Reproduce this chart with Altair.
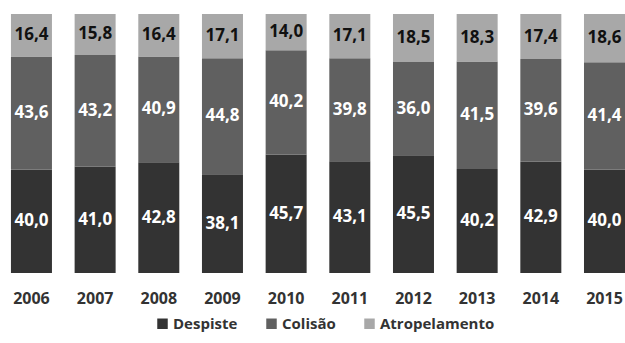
import altair as alt
import pandas as pd

years = ["2006", "2007", "2008", "2009", "2010", "2011", "2012", "2013", "2014", "2015"]
despiste = [40.0, 41.0, 42.8, 38.1, 45.7, 43.1, 45.5, 40.2, 42.9, 40.0]
colisao = [43.6, 43.2, 40.9, 44.8, 40.2, 39.8, 36.0, 41.5, 39.6, 41.4]
atropelamento = [16.4, 15.8, 16.4, 17.1, 14.0, 17.1, 18.5, 18.3, 17.4, 18.6]
categories = ["Despiste", "Colisão", "Atropelamento"]
colors = ["#333333", "#606060", "#a8a8a8"]

rows = []
for i, y in enumerate(years):
    for k, (cat, vals) in enumerate(zip(categories, [despiste, colisao, atropelamento])):
        v = vals[i]
        rows.append({"ano": y, "categoria": cat, "ordem": k, "valor": v,
                     "rotulo": f"{v:.1f}".replace(".", ",")})
df = pd.DataFrame(rows)

FONT = "Open Sans"

base = alt.Chart(df).transform_stack(
    stack="valor", groupby=["ano"], as_=["y0", "y1"],
    sort=[alt.SortField("ordem", order="ascending")], offset="normalize"
).transform_calculate(mid="(datum.y0 + datum.y1) / 2")

xenc = alt.X("ano:O", title=None,
             scale=alt.Scale(paddingInner=0.356, paddingOuter=0.086, align=1),
             axis=alt.Axis(labelAngle=0, domain=False, ticks=False, labelFont=FONT,
                           labelFontSize=16, labelFontWeight="bold", labelColor="#333333",
                           labelPadding=17))

bars = base.mark_bar().encode(
    x=xenc,
    y=alt.Y("y0:Q", scale=alt.Scale(domain=[0, 1]), axis=None),
    y2="y1:Q",
    color=alt.Color("categoria:N", scale=alt.Scale(domain=categories, range=colors),
                    legend=alt.Legend(title=None, orient="none", direction="horizontal",
                                      legendX=155, legendY=302, symbolType="square",
                                      symbolSize=110, symbolStrokeWidth=0,
                                      labelFont=FONT, labelFontSize=15, labelFontWeight="bold",
                                      labelColor="#333333", labelOffset=3, columnPadding=26)),
)

text = base.mark_text(font=FONT, fontSize=17, fontWeight="bold").encode(
    x=alt.X("ano:O"),
    y=alt.Y("mid:Q"),
    text="rotulo:N",
    color=alt.condition(alt.datum.categoria == "Atropelamento", alt.value("#111111"), alt.value("#ffffff")),
)

chart = alt.layer(bars, text).properties(
    width=625, height=259,
    autosize=alt.AutoSizeParams(type="none"),
    padding={"left": 0, "right": 0, "top": 14, "bottom": 70},
    background="white",
).configure_view(stroke=None)

chart.save("out.html", embed_options={"renderer": "svg", "actions": False})
